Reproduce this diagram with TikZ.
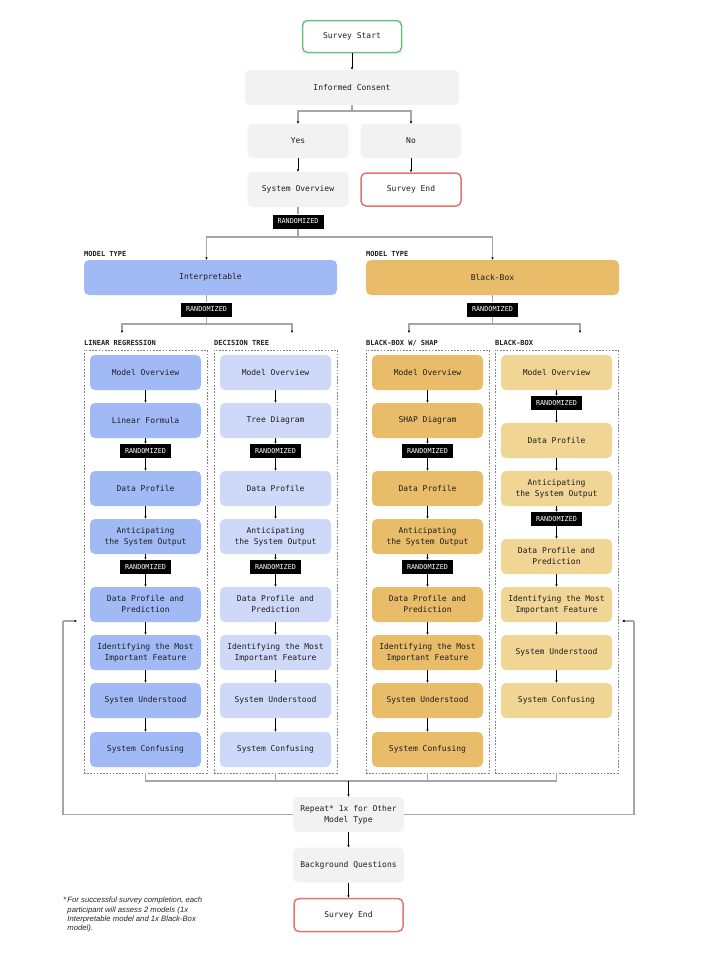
\documentclass[tikz,border=0pt]{standalone}
\usepackage{fontspec}
\setmonofont{DejaVu Sans Mono}
\setsansfont{Liberation Sans}
\usetikzlibrary{arrows.meta}
\definecolor{BoxGray}{HTML}{F2F2F2}
\definecolor{LinBlue}{HTML}{A1B9F5}
\definecolor{TreeBlue}{HTML}{CED8F8}
\definecolor{ShapOrange}{HTML}{E8BC69}
\definecolor{BoxOrange}{HTML}{F0D595}
\definecolor{StartGreen}{HTML}{6CBF7E}
\definecolor{EndRed}{HTML}{E57470}
\definecolor{TextDark}{HTML}{1E1E1E}

\begin{document}
\begin{tikzpicture}[x=1pt, y=-1pt,
    box/.style={rectangle, rounded corners=5pt, minimum width=111, minimum height=35,
      inner sep=0, text=TextDark, font=\ttfamily\fontsize{8}{11}\selectfont},
    grey/.style={box, fill=BoxGray},
    lin/.style={box, fill=LinBlue},
    tree/.style={box, fill=TreeBlue},
    shap/.style={box, fill=ShapOrange},
    bbox/.style={box, fill=BoxOrange},
    rnd/.style={rectangle, fill=black, text=white, minimum width=51, minimum height=14,
      inner sep=0, font=\ttfamily\fontsize{6.8}{8}\selectfont},
    lab/.style={anchor=west, inner sep=0, text=TextDark, font=\ttfamily\bfseries\fontsize{7}{8}\selectfont},
    group/.style={rectangle, draw=black!50, line width=0.5pt, dash pattern=on 1.6pt off 1.6pt,
      minimum width=123, minimum height=423, inner sep=0},
    arr/.style={draw=black, line width=0.6pt, -{Latex[length=2.5pt,width=2.5pt]}},
    line/.style={draw=black!35, line width=1.2pt},
    branch/.style={line, -{Latex[black,length=2.5pt,width=2.5pt]}}
  ]
  \useasboundingbox (0,0) rectangle (703,954);

  % top of the survey
  \node (Start) [box, fill=white, draw=StartGreen, line width=1.5pt, minimum width=99, minimum height=32] at (352, 36.5) {Survey Start};
  \node (Consent) [grey, minimum width=214] at (352, 87.5) {Informed Consent};
  \node (Yes) [grey, minimum width=101, minimum height=34] at (298, 141) {Yes};
  \node (No) [grey, minimum width=101, minimum height=34] at (411, 141) {No};
  \node (Overview) [grey, minimum width=101] at (298, 189.5) {System Overview};
  \node (EndTop) [box, fill=white, draw=EndRed, line width=1.5pt, minimum width=100, minimum height=33] at (411, 189.5) {Survey End};
  \node (R0) [rnd] at (298, 221.5) {RANDOMIZED};

  \coordinate (J0) at (352, 111);
  \coordinate (J1) at (298, 237);
  \draw[arr] (Start) -- (Consent);
  \draw[line] (Consent.south) -- (J0);
  \draw[branch] (J0) -| (Yes.north);
  \draw[branch] (J0) -| (No.north);
  \draw[arr] (Yes) -- (Overview);
  \draw[arr] (No) -- (EndTop);
  \draw[line] (Overview) -- (R0);
  \draw[line] (R0) -- (J1);

  % model types
  \node (TypeA) [lab] at (84, 254) {MODEL TYPE};
  \node (TypeB) [lab] at (366, 254) {MODEL TYPE};
  \node (Interp) [box, fill=LinBlue, minimum width=253] at (210.5, 277.5) {Interpretable};
  \node (Black) [box, fill=ShapOrange, minimum width=253] at (492.5, 277.5) {Black-Box};
  \node (R1) [rnd] at (206.5, 309.5) {RANDOMIZED};
  \node (R2) [rnd] at (492.5, 309.5) {RANDOMIZED};

  \draw[branch] (J1) -| (R1 |- Interp.north);
  \draw[branch] (J1) -| (R2 |- Black.north);

  \coordinate (J2) at (206.5, 324);
  \coordinate (J3) at (492.5, 324);
  \draw[line] (R1 |- Interp.south) -- (R1);
  \draw[line] (R2 |- Black.south) -- (R2);
  \draw[line] (R1) -- (J2);
  \draw[line] (R2) -- (J3);
  \draw[branch] (J2) -| (122, 333);
  \draw[branch] (J2) -| (292, 333);
  \draw[branch] (J3) -| (409, 333);
  \draw[branch] (J3) -| (580, 333);

  % groups
  \node (LabLR) [lab] at (84, 343) {LINEAR REGRESSION};
  \node (LabDT) [lab] at (214, 343) {DECISION TREE};
  \node (LabSH) [lab] at (366, 343) {BLACK-BOX W/ SHAP};
  \node (LabBB) [lab] at (495, 343) {BLACK-BOX};
  \node (GLR) [group] at (145.5, 561.5) {};
  \node (GDT) [group] at (275.5, 561.5) {};
  \node (GSH) [group] at (427.5, 561.5) {};
  \node (GBB) [group] at (556.5, 561.5) {};

  % linear regression
  \node (LR1) [lin] at (145.5, 372.5) {Model Overview};
  \node (LR2) [lin] at (145.5, 420.5) {Linear Formula};
  \node (LRa) [rnd] at (145.5, 451) {RANDOMIZED};
  \node (LR3) [lin] at (145.5, 488.5) {Data Profile};
  \node (LR4) [lin] at (145.5, 536.5) {
    \begin{tabular}{c}
      Anticipating \\
      the System Output
    \end{tabular}
  };
  \node (LRb) [rnd] at (145.5, 567) {RANDOMIZED};
  \node (LR5) [lin] at (145.5, 604.5) {
    \begin{tabular}{c}
      Data Profile and \\
      Prediction
    \end{tabular}
  };
  \node (LR6) [lin] at (145.5, 652.5) {
    \begin{tabular}{c}
      Identifying the Most \\
      Important Feature
    \end{tabular}
  };
  \node (LR7) [lin] at (145.5, 700.5) {System Understood};
  \node (LR8) [lin] at (145.5, 749.5) {System Confusing};

  % decision tree
  \node (DT1) [tree] at (275.5, 372.5) {Model Overview};
  \node (DT2) [tree] at (275.5, 420.5) {Tree Diagram};
  \node (DTa) [rnd] at (275.5, 451) {RANDOMIZED};
  \node (DT3) [tree] at (275.5, 488.5) {Data Profile};
  \node (DT4) [tree] at (275.5, 536.5) {
    \begin{tabular}{c}
      Anticipating \\
      the System Output
    \end{tabular}
  };
  \node (DTb) [rnd] at (275.5, 567) {RANDOMIZED};
  \node (DT5) [tree] at (275.5, 604.5) {
    \begin{tabular}{c}
      Data Profile and \\
      Prediction
    \end{tabular}
  };
  \node (DT6) [tree] at (275.5, 652.5) {
    \begin{tabular}{c}
      Identifying the Most \\
      Important Feature
    \end{tabular}
  };
  \node (DT7) [tree] at (275.5, 700.5) {System Understood};
  \node (DT8) [tree] at (275.5, 749.5) {System Confusing};

  % black-box with shap
  \node (SH1) [shap] at (427.5, 372.5) {Model Overview};
  \node (SH2) [shap] at (427.5, 420.5) {SHAP Diagram};
  \node (SHa) [rnd] at (427.5, 451) {RANDOMIZED};
  \node (SH3) [shap] at (427.5, 488.5) {Data Profile};
  \node (SH4) [shap] at (427.5, 536.5) {
    \begin{tabular}{c}
      Anticipating \\
      the System Output
    \end{tabular}
  };
  \node (SHb) [rnd] at (427.5, 567) {RANDOMIZED};
  \node (SH5) [shap] at (427.5, 604.5) {
    \begin{tabular}{c}
      Data Profile and \\
      Prediction
    \end{tabular}
  };
  \node (SH6) [shap] at (427.5, 652.5) {
    \begin{tabular}{c}
      Identifying the Most \\
      Important Feature
    \end{tabular}
  };
  \node (SH7) [shap] at (427.5, 700.5) {System Understood};
  \node (SH8) [shap] at (427.5, 749.5) {System Confusing};

  % black-box
  \node (BB1) [bbox] at (556.5, 372.5) {Model Overview};
  \node (BBa) [rnd] at (556.5, 403) {RANDOMIZED};
  \node (BB2) [bbox] at (556.5, 440.5) {Data Profile};
  \node (BB3) [bbox] at (556.5, 488.5) {
    \begin{tabular}{c}
      Anticipating \\
      the System Output
    \end{tabular}
  };
  \node (BBb) [rnd] at (556.5, 519) {RANDOMIZED};
  \node (BB4) [bbox] at (556.5, 556.5) {
    \begin{tabular}{c}
      Data Profile and \\
      Prediction
    \end{tabular}
  };
  \node (BB5) [bbox] at (556.5, 604.5) {
    \begin{tabular}{c}
      Identifying the Most \\
      Important Feature
    \end{tabular}
  };
  \node (BB6) [bbox] at (556.5, 652.5) {System Understood};
  \node (BB7) [bbox] at (556.5, 700.5) {System Confusing};

  \draw[arr] (LR1) -- (LR2);
  \draw[arr] (LR2) -- (LRa);
  \draw[arr] (LRa) -- (LR3);
  \draw[arr] (LR3) -- (LR4);
  \draw[arr] (LR4) -- (LRb);
  \draw[arr] (LRb) -- (LR5);
  \draw[arr] (LR5) -- (LR6);
  \draw[arr] (LR6) -- (LR7);
  \draw[arr] (LR7) -- (LR8);

  \draw[arr] (DT1) -- (DT2);
  \draw[arr] (DT2) -- (DTa);
  \draw[arr] (DTa) -- (DT3);
  \draw[arr] (DT3) -- (DT4);
  \draw[arr] (DT4) -- (DTb);
  \draw[arr] (DTb) -- (DT5);
  \draw[arr] (DT5) -- (DT6);
  \draw[arr] (DT6) -- (DT7);
  \draw[arr] (DT7) -- (DT8);

  \draw[arr] (SH1) -- (SH2);
  \draw[arr] (SH2) -- (SHa);
  \draw[arr] (SHa) -- (SH3);
  \draw[arr] (SH3) -- (SH4);
  \draw[arr] (SH4) -- (SHb);
  \draw[arr] (SHb) -- (SH5);
  \draw[arr] (SH5) -- (SH6);
  \draw[arr] (SH6) -- (SH7);
  \draw[arr] (SH7) -- (SH8);

  \draw[arr] (BB1) -- (BBa);
  \draw[arr] (BBa) -- (BB2);
  \draw[arr] (BB2) -- (BB3);
  \draw[arr] (BB3) -- (BBb);
  \draw[arr] (BBb) -- (BB4);
  \draw[arr] (BB4) -- (BB5);
  \draw[arr] (BB5) -- (BB6);
  \draw[arr] (BB6) -- (BB7);

  % end of the survey
  \node (Repeat) [grey, minimum width=111] at (348.5, 814.5) {
    \begin{tabular}{c}
      Repeat* 1x for Other \\
      Model Type
    \end{tabular}
  };
  \node (Background) [grey, minimum width=111] at (348.5, 865) {Background Questions};
  \node (End) [box, fill=white, draw=EndRed, line width=1.5pt, minimum width=109, minimum height=33] at (348.5, 915) {Survey End};

  \coordinate (M) at (348.5, 781);
  \draw[line] (GLR.south) -- (GLR.south |- M) -- (GBB.south |- M) -- (GBB.south);
  \draw[line] (GDT.south) -- (GDT.south |- M);
  \draw[line] (GSH.south) -- (GSH.south |- M);
  \draw[arr] (M) -- (Repeat);
  \draw[arr] (Repeat) -- (Background);
  \draw[arr] (Background) -- (End);

  \coordinate (LoopL) at (63, 621);
  \coordinate (LoopLT) at (77, 621);
  \coordinate (LoopR) at (634, 621);
  \coordinate (LoopRT) at (622, 621);
  \draw[line] (Repeat.west) -| (LoopL);
  \draw[branch] (LoopL) -- (LoopLT);
  \draw[line] (Repeat.east) -| (LoopR);
  \draw[branch] (LoopR) -- (LoopRT);

  \node (Note) [anchor=north west, inner sep=0, text=black!85,
    font=\sffamily\itshape\fontsize{7.7}{9.3}\selectfont] at (63, 896) {*\,\begin{tabular}[t]{@{}l@{}}
      For successful survey completion, each \\
      participant will assess 2 models (1x \\
      Interpretable model and 1x Black-Box \\
      model).
    \end{tabular}};
\end{tikzpicture}
\end{document}
